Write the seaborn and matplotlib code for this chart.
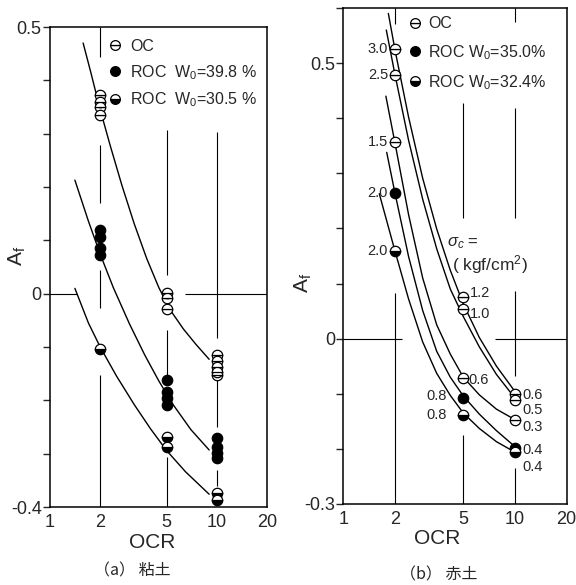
import numpy as np
import pandas as pd
import matplotlib
matplotlib.use("Agg")
import matplotlib.pyplot as plt
import seaborn as sns
from matplotlib.lines import Line2D
from matplotlib.ticker import NullLocator

sns.set_style("ticks")
plt.rcParams["font.family"] = ["Liberation Sans", "Noto Sans CJK JP", "DejaVu Sans"]
plt.rcParams["mathtext.fontset"] = "custom"
plt.rcParams["mathtext.rm"] = "Liberation Sans"
plt.rcParams["mathtext.it"] = "Liberation Sans:italic"

# ---- (a) clay: measured points ----
oc_a_ocr = [2, 2, 2, 2, 5, 5, 5, 10, 10, 10, 10, 10]
oc_a_af = [0.373, 0.36, 0.35, 0.335, 0.001, -0.009, -0.029,
           -0.115, -0.127, -0.137, -0.146, -0.152]
roc1_a_ocr = [2, 2, 2, 2, 5, 5, 5, 5, 10, 10, 10, 10]
roc1_a_af = [0.119, 0.107, 0.085, 0.073, -0.162, -0.184, -0.196, -0.209,
             -0.271, -0.287, -0.299, -0.309]
roc2_a_ocr = [2, 5, 5, 10, 10]
roc2_a_af = [-0.104, -0.268, -0.288, -0.374, -0.386]

# (a) fitted curves
cur_oc_a_ocr = [1.58, 1.75, 2.0, 2.3, 2.7, 3.2, 3.8, 4.5, 5.3, 6.3, 7.5, 9.0]
cur_oc_a_af = [0.47, 0.417, 0.345, 0.277, 0.203, 0.131, 0.066, 0.011,
               -0.032, -0.066, -0.095, -0.123]
cur_r1_a_ocr = [1.41, 1.7, 2.0, 2.4, 3.0, 3.7, 4.5, 5.5, 7.0, 9.0]
cur_r1_a_af = [0.213, 0.136, 0.074, 0.011, -0.057, -0.115, -0.164, -0.209, -0.255, -0.293]
cur_r2_a_ocr = [1.41, 1.7, 2.0, 2.5, 3.2, 4.0, 5.0, 6.5, 9.0]
cur_r2_a_af = [0.01, -0.055, -0.1, -0.154, -0.208, -0.253, -0.294, -0.334, -0.376]

# ---- (b) red soil: measured points with consolidation stress labels ----
oc_b_ocr = [2, 2, 2, 5, 5, 5, 10, 10, 10]
oc_b_af = [0.525, 0.479, 0.356, 0.075, 0.054, -0.072, -0.10, -0.112, -0.148]
oc_b_sig = ["3.0", "2.5", "1.5", "1.2", "1.0", "0.6", "0.6", "0.5", "0.3"]
roc1_b_ocr = [2, 5, 10]
roc1_b_af = [0.264, -0.107, -0.199]
roc1_b_sig = ["2.0", "0.8", "0.4"]
roc2_b_ocr = [2, 5, 10]
roc2_b_af = [0.159, -0.139, -0.205]
roc2_b_sig = ["2.0", "0.8", "0.4"]

# (b) fitted curves
cur_b1_ocr = [1.83, 2.0, 2.4, 2.9, 3.5, 4.2, 5.0, 6.2, 7.8, 10.0]
cur_b1_af = [0.59, 0.524, 0.402, 0.291, 0.199, 0.124, 0.063, 0.002, -0.05, -0.096]
cur_b2_ocr = [1.78, 2.0, 2.4, 2.9, 3.5, 4.2, 5.0, 6.2, 7.8, 10.0]
cur_b2_af = [0.56, 0.479, 0.36, 0.253, 0.163, 0.09, 0.04, -0.015, -0.065, -0.108]
cur_b3_ocr = [1.77, 2.0, 2.4, 2.9, 3.5, 4.2, 5.0, 6.2, 7.8, 10.0]
cur_b3_af = [0.44, 0.355, 0.225, 0.11, 0.025, -0.028, -0.07, -0.102, -0.128, -0.147]
cur_b4_ocr = [1.79, 2.0, 2.4, 2.9, 3.5, 4.2, 5.0, 6.2, 7.8, 10.0]
cur_b4_af = [0.338, 0.264, 0.149, 0.051, -0.023, -0.07, -0.104, -0.137, -0.167, -0.196]
cur_b5_ocr = [1.62, 2.0, 2.4, 2.9, 3.5, 4.2, 5.0, 6.2, 7.8, 10.0]
cur_b5_af = [0.263, 0.159, 0.072, -0.006, -0.063, -0.103, -0.135, -0.163, -0.187, -0.206]

# label offsets (points) for the stress labels in (b)
oc_b_off = [(-5, 0), (-5, 0), (-5, 0), (5, 3), (5, -4), (4, -1), (5, -1), (5, -7), (5, -5)]
roc1_b_off = [(-5, 0), (-12, 1), (5, -1)]
roc2_b_off = [(-5, 0), (-12, 0), (5, -11)]

MS = 7.5
styles = {
    "oc": dict(marker="o", fillstyle="bottom", markerfacecolor="white",
               markerfacecoloralt="white"),
    "roc1": dict(marker="o", fillstyle="full", markerfacecolor="black"),
    "roc2": dict(marker="o", fillstyle="bottom", markerfacecolor="black",
                 markerfacecoloralt="white"),
}


def points(ax, x, y, kind):
    df = pd.DataFrame({"OCR": x, "Af": y})
    sns.lineplot(data=df, x="OCR", y="Af", ax=ax, estimator=None, linestyle="none",
                 color="black", markeredgecolor="black", markeredgewidth=0.9,
                 markersize=MS, zorder=4, **styles[kind])


def curve(ax, x, y):
    df = pd.DataFrame({"OCR": x, "Af": y})
    sns.lineplot(data=df, x="OCR", y="Af", ax=ax, estimator=None, sort=False,
                 color="black", lw=1.0, zorder=2)


def frame(ax, ylo, yhi, ylabels):
    ax.set_xscale("log")
    ax.set_xlim(1, 20)
    ax.set_ylim(ylo, yhi)
    ax.set_xticks([1, 2, 5, 10, 20])
    ax.set_xticklabels(["1", "2", "5", "10", "20"])
    ax.xaxis.set_minor_locator(NullLocator())
    ticks = np.round(np.arange(ylo, yhi + 0.001, 0.1), 1)
    ax.set_yticks(ticks)
    ax.set_yticklabels([ylabels.get(round(t, 1), "") for t in ticks])
    ax.tick_params(axis="x", length=0, pad=5, labelsize=13)
    ax.tick_params(axis="y", direction="out", length=5, width=1, pad=1, labelsize=13)
    ax.set_xlabel("")
    ax.set_ylabel("")
    for s in ax.spines.values():
        s.set_visible(True)
        s.set_linewidth(1.1)
        s.set_color("black")


fig = plt.figure(figsize=(5.76, 5.85), dpi=100)
ax1 = fig.add_axes([0.0868, 0.1333, 0.3767, 0.8205])
ax2 = fig.add_axes([0.596, 0.1385, 0.3878, 0.8479])

# broken guide lines like the original
grid_a_v = {2: [(0.443, 0.5), (0.17, 0.279), (-0.027, 0.044), (-0.4, -0.152)],
            5: [(0.035, 0.307), (-0.152, -0.068), (-0.4, -0.306)],
            10: [(-0.083, 0.303), (-0.25, -0.158), (-0.36, -0.33)]}
grid_a_h = [(1.0, 1.45), (6.45, 20)]
grid_b_v = {2: [(0.571, 0.6), (-0.3, 0.082)],
            5: [(0.218, 0.428), (-0.3, -0.175)],
            10: [(0.575, 0.6), (0.218, 0.419), (-0.067, 0.087), (-0.3, -0.235)]}
grid_b_h = [(1.0, 2.19), (7.64, 20)]
for ax, gv, gh in [(ax1, grid_a_v, grid_a_h), (ax2, grid_b_v, grid_b_h)]:
    for xv, segs in gv.items():
        for lo, hi in segs:
            ax.vlines(xv, lo, hi, color="black", lw=0.8, zorder=1)
    for lo, hi in gh:
        ax.hlines(0, lo, hi, color="black", lw=0.8, zorder=1)

# ---- panel (a) ----
for cx, cy in [(cur_oc_a_ocr, cur_oc_a_af), (cur_r1_a_ocr, cur_r1_a_af),
               (cur_r2_a_ocr, cur_r2_a_af)]:
    curve(ax1, cx, cy)
points(ax1, oc_a_ocr, oc_a_af, "oc")
points(ax1, roc1_a_ocr, roc1_a_af, "roc1")
points(ax1, roc2_a_ocr, roc2_a_af, "roc2")
frame(ax1, -0.4, 0.5, {0.5: "0.5", 0.0: "0", -0.4: "-0.4"})

# ---- panel (b) ----
for cx, cy in [(cur_b1_ocr, cur_b1_af), (cur_b2_ocr, cur_b2_af), (cur_b3_ocr, cur_b3_af),
               (cur_b4_ocr, cur_b4_af), (cur_b5_ocr, cur_b5_af)]:
    curve(ax2, cx, cy)
points(ax2, oc_b_ocr, oc_b_af, "oc")
points(ax2, roc1_b_ocr, roc1_b_af, "roc1")
points(ax2, roc2_b_ocr, roc2_b_af, "roc2")
frame(ax2, -0.3, 0.6, {0.5: "0.5", 0.0: "0", -0.3: "-0.3"})

for xs, ys, labs, offs in [(oc_b_ocr, oc_b_af, oc_b_sig, oc_b_off),
                           (roc1_b_ocr, roc1_b_af, roc1_b_sig, roc1_b_off),
                           (roc2_b_ocr, roc2_b_af, roc2_b_sig, roc2_b_off)]:
    for x, y, t, (dx, dy) in zip(xs, ys, labs, offs):
        ax2.annotate(t, (x, y), xytext=(dx, dy), textcoords="offset points",
                     ha="right" if dx < 0 else "left", va="center", fontsize=10.5)

# legends
def handle(kind, ms=7):
    return Line2D([], [], linestyle="none", markeredgecolor="black",
                  markeredgewidth=0.9, markersize=ms, **styles[kind])

hs = [handle("oc"), handle("roc1"), handle("roc2")]
ax1.legend(hs, ["OC", "ROC  W$_0$=39.8 %", "ROC  W$_0$=30.5 %"],
           loc="upper left", bbox_to_anchor=(0.265, 0.975), frameon=False,
           fontsize=11.5, handlelength=1.0, handletextpad=0.4, labelspacing=0.55,
           borderpad=0, borderaxespad=0)
ax2.legend(hs, ["OC", "ROC W$_0$=35.0%", "ROC W$_0$=32.4%"],
           loc="upper left", bbox_to_anchor=(0.287, 0.983), frameon=False,
           fontsize=11.5, handlelength=1.0, handletextpad=0.3, labelspacing=0.72,
           borderpad=0, borderaxespad=0)


def px(x, y):
    return x / 576, 1 - y / 585


fig.text(*px(17, 256), r"A$_\mathrm{f}$", rotation=90, ha="center", va="center", fontsize=15)
fig.text(*px(303, 283), r"A$_\mathrm{f}$", rotation=90, ha="center", va="center", fontsize=15)
fig.text(*px(152, 543), "OCR", ha="center", va="center", fontsize=15)
fig.text(*px(437, 538), "OCR", ha="center", va="center", fontsize=15)
fig.text(*px(132, 571), "（a） 粘土", ha="center", va="center", fontsize=11.5,
         family=["Noto Sans CJK JP", "DejaVu Sans"])
fig.text(*px(439, 575), "（b） 赤土", ha="center", va="center", fontsize=11.5,
         family=["Noto Sans CJK JP", "DejaVu Sans"])
fig.text(*px(447, 243), r"$\sigma_c$ =", ha="left", va="center", fontsize=12)
fig.text(*px(452, 265), r"( kgf/cm$^2$)", ha="left", va="center", fontsize=12.5)

fig.savefig("out.png", dpi=100)
